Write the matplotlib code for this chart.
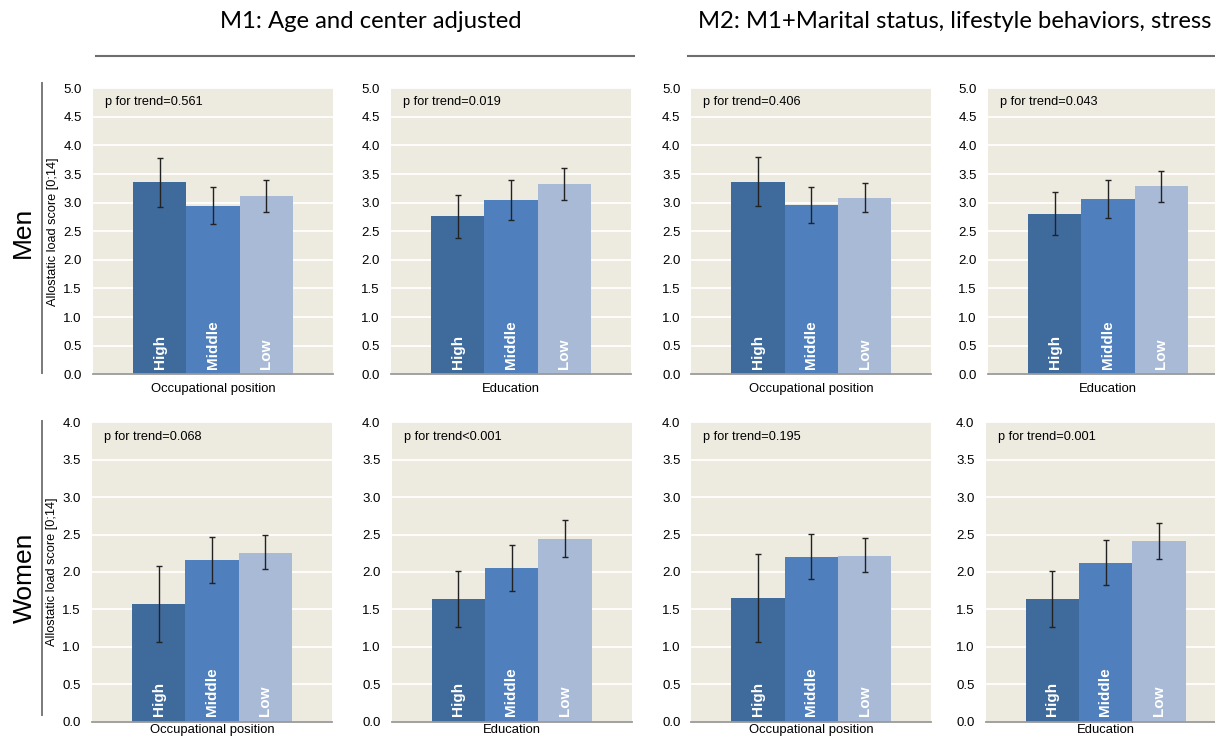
import matplotlib
matplotlib.use("Agg")
import matplotlib.pyplot as plt
from matplotlib.lines import Line2D

plt.rcParams["font.family"] = ["Liberation Sans", "DejaVu Sans"]

groups = ["High", "Middle", "Low"]
bar_colors = ["#3F6A9C", "#4F80BD", "#A9BAD7"]
bg_color = "#EDEAE0"

# men, rows of the upper panels: (mean, lower CI, upper CI)
men_m1_occ = [3.36, 2.94, 3.11]
men_m1_occ_lo = [2.93, 2.62, 2.84]
men_m1_occ_hi = [3.79, 3.27, 3.40]
men_m1_edu = [2.76, 3.04, 3.32]
men_m1_edu_lo = [2.39, 2.70, 3.04]
men_m1_edu_hi = [3.14, 3.39, 3.60]
men_m2_occ = [3.37, 2.96, 3.08]
men_m2_occ_lo = [2.95, 2.65, 2.83]
men_m2_occ_hi = [3.80, 3.28, 3.35]
men_m2_edu = [2.81, 3.06, 3.29]
men_m2_edu_lo = [2.44, 2.73, 3.02]
men_m2_edu_hi = [3.18, 3.39, 3.56]

# women
women_m1_occ = [1.57, 2.16, 2.26]
women_m1_occ_lo = [1.07, 1.85, 2.04]
women_m1_occ_hi = [2.08, 2.47, 2.49]
women_m1_edu = [1.64, 2.05, 2.44]
women_m1_edu_lo = [1.26, 1.74, 2.20]
women_m1_edu_hi = [2.02, 2.36, 2.69]
women_m2_occ = [1.65, 2.20, 2.21]
women_m2_occ_lo = [1.06, 1.90, 2.00]
women_m2_occ_hi = [2.24, 2.51, 2.45]
women_m2_edu = [1.64, 2.12, 2.41]
women_m2_edu_lo = [1.26, 1.82, 2.17]
women_m2_edu_hi = [2.02, 2.43, 2.66]

men_p = ["p for trend=0.561", "p for trend=0.019", "p for trend=0.406", "p for trend=0.043"]
women_p = ["p for trend=0.068", "p for trend<0.001", "p for trend=0.195", "p for trend=0.001"]
xlabels = ["Occupational position", "Education", "Occupational position", "Education"]
titles = ["M1: Age and center adjusted", "M2: M1+Marital status, lifestyle behaviors, stress"]
ylabel = "Allostatic load score [0;14]"

W, H = 1215, 739
fig = plt.figure(figsize=(W / 100, H / 100), dpi=100)


def px_axes(x0, y_top, y_bot, w=240):
    return fig.add_axes([x0 / W, 1 - y_bot / H, w / W, (y_bot - y_top) / H])


def panel(ax, means, lo, hi, ymax, ptext, xlabel, show_ylabel, xpad):
    ax.set_facecolor(bg_color)
    x = range(len(groups))
    yerr = [[m - l for m, l in zip(means, lo)], [h - m for m, h in zip(means, hi)]]
    ax.bar(x, means, width=1.0, color=bar_colors, zorder=2)
    ax.errorbar(x, means, yerr=yerr, fmt="none", ecolor="#222222",
                elinewidth=1.0, capsize=2.5, capthick=1.0, zorder=3)
    for xi, g in zip(x, groups):
        ax.text(xi, 0.1 * ymax / 5, g, rotation=90, ha="center", va="bottom", color="white",
                fontsize=11, fontweight="bold", zorder=4)
    ax.set_xlim(-1.25, 3.25)
    ax.set_ylim(0, ymax)
    ax.set_yticks([i * 0.5 for i in range(int(ymax * 2) + 1)])
    ax.set_yticklabels([f"{i * 0.5:.1f}" for i in range(int(ymax * 2) + 1)])
    ax.set_xticks([])
    ax.tick_params(axis="y", length=0, pad=8, labelsize=9.5)
    ax.grid(axis="y", color="white", linewidth=1.3, zorder=1)
    ax.set_axisbelow(True)
    for s in ["top", "right", "left"]:
        ax.spines[s].set_visible(False)
    ax.spines["bottom"].set_color("#9A9A9A")
    ax.spines["bottom"].set_linewidth(1.3)
    ax.set_xlabel(xlabel, fontsize=9.4, labelpad=xpad)
    ax.text(12 / 240, 1 - 14 / 286, ptext, transform=ax.transAxes, fontsize=9.2,
            ha="left", va="center")
    if show_ylabel:
        ax.set_ylabel(ylabel, fontsize=9.2, labelpad=3)


row1_x = [93, 391, 691.5, 988]
row2_x = [92, 391.5, 691.5, 985.5]

men_data = [(men_m1_occ, men_m1_occ_lo, men_m1_occ_hi),
            (men_m1_edu, men_m1_edu_lo, men_m1_edu_hi),
            (men_m2_occ, men_m2_occ_lo, men_m2_occ_hi),
            (men_m2_edu, men_m2_edu_lo, men_m2_edu_hi)]
women_data = [(women_m1_occ, women_m1_occ_lo, women_m1_occ_hi),
              (women_m1_edu, women_m1_edu_lo, women_m1_edu_hi),
              (women_m2_occ, women_m2_occ_lo, women_m2_occ_hi),
              (women_m2_edu, women_m2_edu_lo, women_m2_edu_hi)]

for i in range(4):
    ax = px_axes(row1_x[i], 88.3, 374.3)
    m, l, h = men_data[i]
    panel(ax, m, l, h, 5.0, men_p[i], xlabels[i], i == 0, 6)

    ax = px_axes(row2_x[i], 422.3, 721.7)
    m, l, h = women_data[i]
    panel(ax, m, l, h, 4.0, women_p[i], xlabels[i], i == 0, 1.5)

# sex labels and side rules
fig.text(23 / W, 1 - 232 / H, "Men", rotation=90, fontsize=19, ha="center", va="center")
fig.text(25 / W, 1 - 578 / H, "Women", rotation=90, fontsize=19, ha="center", va="center")
fig.add_artist(Line2D([42 / W, 42 / W], [1 - 83 / H, 1 - 373 / H], color="#7A7A7A", lw=1.4))
fig.add_artist(Line2D([42 / W, 42 / W], [1 - 421 / H, 1 - 715 / H], color="#7A7A7A", lw=1.4))

# model titles
fig.text(371 / W, 1 - 22 / H, titles[0], fontsize=17.2, family=["Lato", "DejaVu Sans"],
         ha="center", va="center")
fig.text(698 / W, 1 - 22 / H, titles[1], fontsize=17.2, family=["Lato", "DejaVu Sans"],
         ha="left", va="center")
fig.add_artist(Line2D([96 / W, 634 / W], [1 - 56 / H, 1 - 56 / H], color="#6E6E6E", lw=1.5))
fig.add_artist(Line2D([688 / W, 1 / 1], [1 - 56 / H, 1 - 56 / H], color="#6E6E6E", lw=1.5))

fig.savefig("out.png", dpi=100)
plt.close(fig)
